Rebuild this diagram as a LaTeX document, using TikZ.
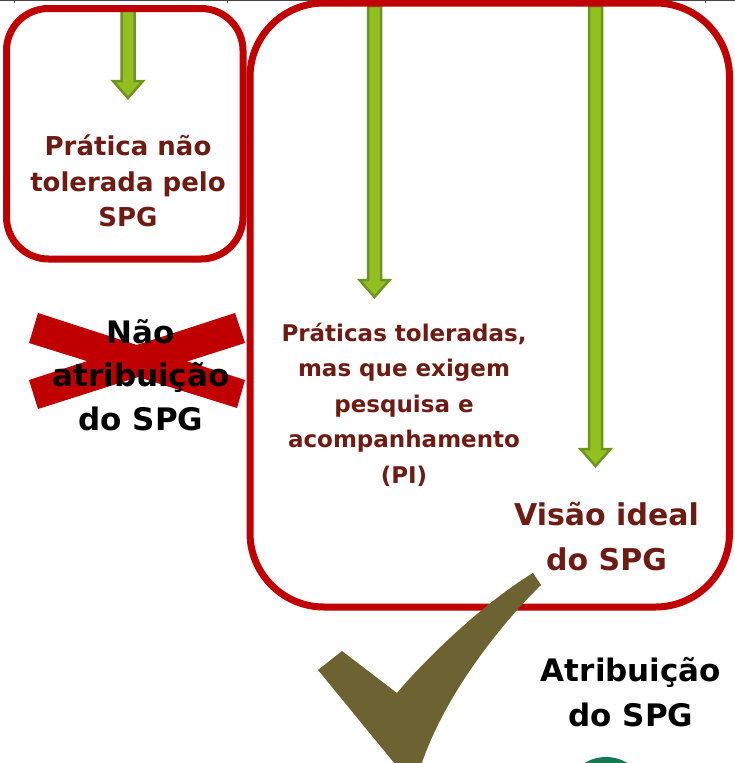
\documentclass[tikz,border=0pt]{standalone}
\usepackage{fontspec}
\setmainfont{DejaVu Sans}
\usetikzlibrary{calc}
\definecolor{boxred}{RGB}{192,0,0}
\definecolor{txtred}{RGB}{110,27,20}
\definecolor{agreen}{RGB}{146,192,33}
\definecolor{agreendk}{RGB}{110,148,30}
\definecolor{checkolive}{RGB}{108,98,50}
\definecolor{logogreen}{RGB}{20,120,80}
\definecolor{rulegray}{RGB}{70,70,70}
\newcommand\greenarrow[2]{%
  \draw[fatarrow] ($(#1)+(-6.5,0)$) -- ($(#1)+(6.5,0)$) -- ($(#2)+(6.5,-17)$)
    -- ($(#2)+(15,-17)$) -- (#2) -- ($(#2)+(-15,-17)$) -- ($(#2)+(-6.5,-17)$) -- cycle;}
\begin{document}
\begin{tikzpicture}[x=1pt,y=-1pt,
  roundbox/.style={draw=boxred,line width=7pt},
  fatarrow/.style={fill=agreen,draw=agreendk,line width=2.5pt,line join=miter},
  lbl/.style={align=center,inner sep=0pt,anchor=base},
  crossbar/.style={fill=boxred},
]
\useasboundingbox (0,0) rectangle (735,763);
\clip (0,0) rectangle (735,763);

% thin rule at the very top
\draw[rulegray,line width=1pt] (0,0.5) -- (735,0.5);
\foreach \tx in {14,227,705} \draw[rulegray,line width=0.8pt] (\tx,0) -- (\tx,3);

% green arrows
\coordinate (aAtop) at (128,10);  \coordinate (aAtip) at (128,98);
\coordinate (aBtop) at (374.5,6); \coordinate (aBtip) at (374.5,297);
\coordinate (aCtop) at (595.5,6); \coordinate (aCtip) at (595.5,466);
\greenarrow{aAtop}{aAtip}
\greenarrow{aBtop}{aBtip}
\greenarrow{aCtop}{aCtip}

% red rounded boxes
\draw[roundbox,rounded corners=42pt] (6.5,8.5) rectangle (243,259);
\draw[roundbox,rounded corners=74pt] (250,3) rectangle (729.5,607);

% red cross
\fill[crossbar] (38,313) -- (245,380) -- (237,408) -- (29,343) -- cycle;
\fill[crossbar] (29,380) -- (235,313) -- (245,343) -- (38,409) -- cycle;

% texts (anchor = baseline of the last line)
\node[lbl,text=txtred,font=\bfseries\fontsize{26pt}{35.5pt}\selectfont] (tA) at (128,226.7)
  {Prática não\\tolerada pelo\\SPG};
\node[lbl,text=black,font=\bfseries\fontsize{31pt}{43.5pt}\selectfont] (tB) at (141,430)
  {Não\\atribuição\\do SPG};
\node[lbl,text=txtred,font=\bfseries\fontsize{23pt}{35.5pt}\selectfont] (tC) at (404,483)
  {Práticas toleradas,\\mas que exigem\\pesquisa e\\acompanhamento\\(PI)};
\node[lbl,text=txtred,font=\bfseries\fontsize{30pt}{45pt}\selectfont] (tD) at (606.5,570)
  {Visão ideal\\do SPG};
\node[lbl,text=black,font=\bfseries\fontsize{31pt}{45pt}\selectfont] (tE) at (631,726.7)
  {Atribuição\\do SPG};

% check mark
\fill[checkolive] (342,651) -- (397,693)
  .. controls (420,665) and (480,605) .. (533,573)
  -- (541,585)
  .. controls (500,625) and (440,700) .. (418,775)
  -- (404,775) -- (318,670) -- cycle;

% logo circle at the bottom edge
\fill[logogreen] (606,798.5) circle (41.5pt);
\end{tikzpicture}
\end{document}
